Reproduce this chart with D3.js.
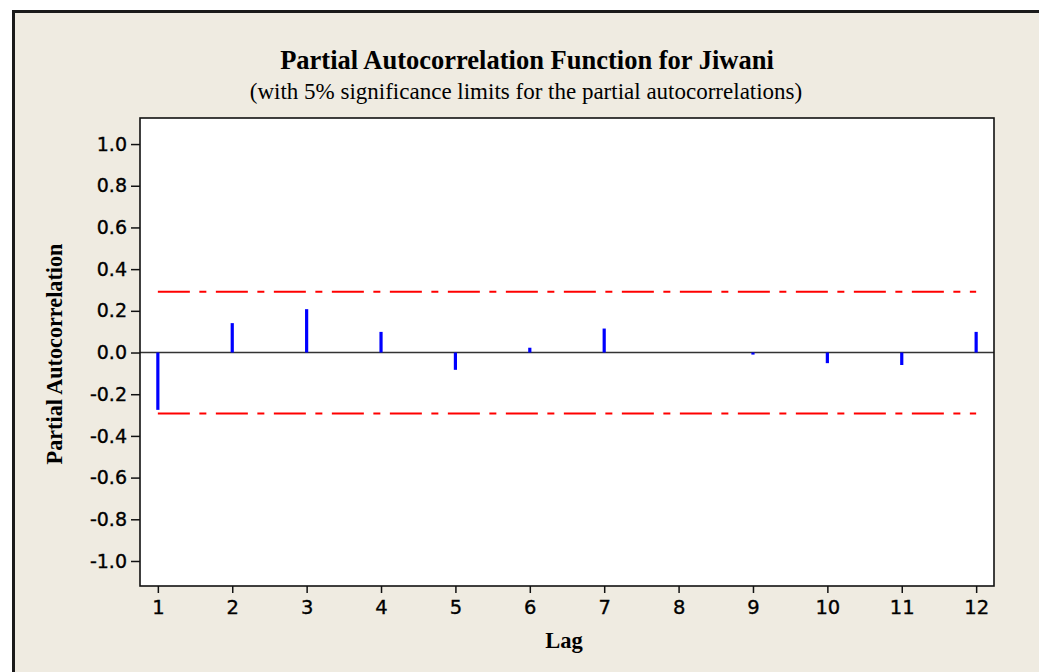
<!DOCTYPE html>
<html>
<head>
<meta charset="utf-8">
<script src="https://cdn.jsdelivr.net/npm/d3@7"></script>
<style>
  html, body { margin: 0; padding: 0; background: #ffffff; }
  svg { display: block; }
</style>
</head>
<body>
<svg id="chart" width="1039" height="672"></svg>
<script>
// ---- data ----
const lags = [1, 2, 3, 4, 5, 6, 7, 8, 9, 10, 11, 12];
const pacf = [-0.275, 0.141, 0.208, 0.099, -0.083, 0.023, 0.115, 0.0, -0.01, -0.051, -0.06, 0.099];
const sigLimit = 0.292;
const yTicks = [-1.0, -0.8, -0.6, -0.4, -0.2, 0.0, 0.2, 0.4, 0.6, 0.8, 1.0];
const xTicks = [1, 2, 3, 4, 5, 6, 7, 8, 9, 10, 11, 12];
const titleText = "Partial Autocorrelation Function for Jiwani";
const subtitleText = "(with 5% significance limits for the partial autocorrelations)";
const xLabel = "Lag";
const yLabel = "Partial Autocorrelation";

// ---- layout ----
const svg = d3.select("#chart");
const W = 1039, H = 672;
const plot = { left: 140, top: 118, right: 994, bottom: 586 };

// outer frame
svg.append("rect")
  .attr("x", 13.5).attr("y", 11.5)
  .attr("width", W + 20).attr("height", H + 20)
  .attr("fill", "#EFEBE1")
  .attr("stroke", "#1a1a1a").attr("stroke-width", 3);

const x = d3.scaleLinear().domain([0.76, 12.24]).range([plot.left, plot.right]);
const y = d3.scaleLinear().domain([-1.12, 1.125]).range([plot.bottom, plot.top]);

// plot background
svg.append("rect")
  .attr("x", plot.left).attr("y", plot.top)
  .attr("width", plot.right - plot.left).attr("height", plot.bottom - plot.top)
  .attr("fill", "#ffffff");

// significance limits
[sigLimit, -sigLimit].forEach(v => {
  svg.append("line")
    .attr("x1", x(lags[0])).attr("x2", x(lags[lags.length - 1]))
    .attr("y1", y(v)).attr("y2", y(v))
    .attr("stroke", "#FF0000").attr("stroke-width", 2)
    .attr("stroke-dasharray", "32,9.5,7,9.5");
});

// zero line
svg.append("line")
  .attr("x1", plot.left).attr("x2", plot.right)
  .attr("y1", y(0)).attr("y2", y(0))
  .attr("stroke", "#333333").attr("stroke-width", 1.5);

// bars
svg.append("g").selectAll("line")
  .data(lags.map((l, i) => ({ lag: l, v: pacf[i] })))
  .join("line")
  .attr("x1", d => x(d.lag)).attr("x2", d => x(d.lag))
  .attr("y1", y(0)).attr("y2", d => y(d.v))
  .attr("stroke", "#0000FF").attr("stroke-width", 3.2);

// plot border
svg.append("rect")
  .attr("x", plot.left).attr("y", plot.top)
  .attr("width", plot.right - plot.left).attr("height", plot.bottom - plot.top)
  .attr("fill", "none")
  .attr("stroke", "#111111").attr("stroke-width", 1.6);

const tickFont = "'DejaVu Sans', Verdana, sans-serif";

// y axis
const yAxis = d3.axisLeft(y)
  .tickValues(yTicks)
  .tickSize(9)
  .tickPadding(4)
  .tickFormat(d => d3.format(".1f")(d).replace("\u2212", "-"));
const gy = svg.append("g").attr("transform", `translate(${plot.left},0)`).call(yAxis);
gy.select(".domain").remove();
gy.selectAll(".tick line").attr("stroke", "#111").attr("stroke-width", 1.5);
gy.selectAll(".tick text")
  .attr("font-family", tickFont).attr("font-size", 19).attr("fill", "#000")
  .attr("stroke", "#000").attr("stroke-width", 0.35);

// x axis
const xAxis = d3.axisBottom(x)
  .tickValues(xTicks)
  .tickSize(7)
  .tickPadding(7)
  .tickFormat(d3.format("d"));
const gx = svg.append("g").attr("transform", `translate(0,${plot.bottom})`).call(xAxis);
gx.select(".domain").remove();
gx.selectAll(".tick line").attr("stroke", "#111").attr("stroke-width", 1.5);
gx.selectAll(".tick text")
  .attr("font-family", tickFont).attr("font-size", 19.5).attr("fill", "#000")
  .attr("stroke", "#000").attr("stroke-width", 0.35);

const serif = "'Liberation Serif', 'Times New Roman', serif";

// titles
svg.append("text")
  .attr("x", 527).attr("y", 69)
  .attr("text-anchor", "middle")
  .attr("font-family", serif).attr("font-weight", "bold").attr("font-size", 26.5)
  .attr("fill", "#000")
  .text(titleText);

svg.append("text")
  .attr("x", 526).attr("y", 99)
  .attr("text-anchor", "middle")
  .attr("font-family", serif).attr("font-size", 23)
  .attr("fill", "#000")
  .text(subtitleText);

svg.append("text")
  .attr("x", 564).attr("y", 648)
  .attr("text-anchor", "middle")
  .attr("font-family", serif).attr("font-weight", "bold").attr("font-size", 22.5)
  .attr("fill", "#000")
  .text(xLabel);

svg.append("text")
  .attr("transform", "translate(62,354) rotate(-90)")
  .attr("text-anchor", "middle")
  .attr("font-family", serif).attr("font-weight", "bold").attr("font-size", 22.2)
  .attr("fill", "#000")
  .text(yLabel);
</script>
</body>
</html>
